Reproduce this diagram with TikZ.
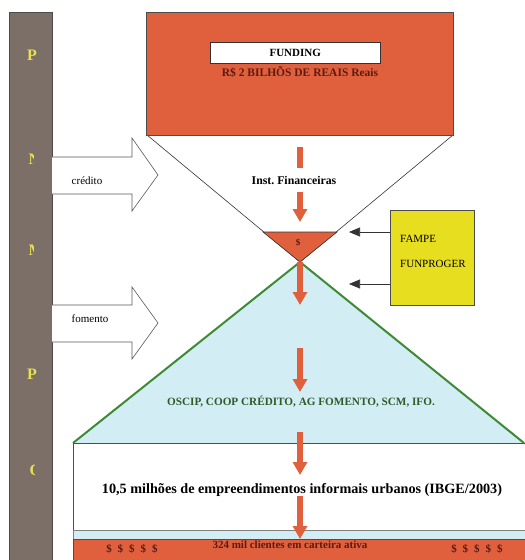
\documentclass[tikz,border=0pt]{standalone}
\usepackage{fontspec}
\setmainfont{Liberation Serif}
\usetikzlibrary{arrows.meta}
\definecolor{barc}{HTML}{7B6F67}
\definecolor{redc}{HTML}{E0603E}
\definecolor{yelc}{HTML}{E6DE1E}
\definecolor{cyanc}{HTML}{D2EEF4}
\definecolor{greenc}{HTML}{3F8A35}
\definecolor{maroonc}{HTML}{5B1A12}
\definecolor{ogreen}{HTML}{2F5A2A}
\definecolor{lettc}{HTML}{E8E050}
\begin{document}
\begin{tikzpicture}[x=1pt,y=-1pt,
  redarrow/.style={draw=redc, line width=6pt, -{Triangle[width=14pt,length=13pt]}},
  blkarrow/.style={draw=black!80, line width=0.6pt, -{Triangle[width=9pt,length=11pt]}},
  blockarrow/.style={draw=black!65, line width=0.6pt, fill=white},
  barletter/.style={text=lettc, inner sep=0pt, font=\fontsize{16}{17}\selectfont\bfseries},
  boxnode/.style={anchor=north west, inner sep=0pt},
  lbl/.style={inner sep=0pt}]
\useasboundingbox (0,0) rectangle (525,560);
% left bar
\node[boxnode, draw=black!70, fill=barc, minimum width=43, minimum height=552] (bar) at (9,12) {};
\node[barletter] (l1) at (32,55) {P};
\begin{scope}
  \clip (20,140) rectangle (33.5,180);
  \node[barletter, anchor=west] (l2) at (28.5,159) {N};
\end{scope}
\begin{scope}
  \clip (20,230) rectangle (33.5,270);
  \node[barletter, anchor=west] (l3) at (28.5,250) {M};
\end{scope}
\node[barletter] (l4) at (32,374) {P};
\begin{scope}
  \clip (20,450) rectangle (34,490);
  \node[barletter, anchor=west] (l5) at (29.5,470) {O};
\end{scope}
% funnel lines
\coordinate (apex) at (300,262);
\draw[line width=0.6pt, black!80] (147,135) -- (apex) -- (453,135);
% top red box
\node[boxnode, draw=black!70, fill=redc, minimum width=307, minimum height=123] (fundbox) at (146,12) {};
\node[boxnode, draw=black!80, fill=white, minimum width=170, minimum height=21, font=\fontsize{11}{13}\selectfont\bfseries] (funding) at (210,42) {FUNDING};
\node[lbl, text=maroonc, font=\fontsize{11.5}{13}\selectfont\bfseries] (reais) at (300,72) {R\$ 2 BILHÕS DE REAIS Reais};
% small red triangle
\draw[fill=redc, draw=black!80, line width=0.6pt] (263,232) -- (337,232) -- (apex) -- cycle;
\node[lbl, text=maroonc, font=\fontsize{9}{10}\selectfont\bfseries] (dollar) at (298,243) {\$};
% green triangle
\fill[cyanc] (apex) -- (73,443) -- (525,443) -- cycle;
% lower box and bands
\draw[black!70, fill=white, line width=0.6pt] (73,443) rectangle (528,530);
\draw[black!50, fill=cyanc, line width=0.4pt] (73,530) rectangle (528,539);
\draw[black!70, fill=redc, line width=0.6pt] (73,539) rectangle (528,563);
\draw[greenc, line width=2pt, line join=round] (73,443) -- (apex) -- (524,443);
% red arrows
\coordinate (a1s) at (300,147); \coordinate (a1e) at (300,222);
\draw[redarrow] (a1s) -- (a1e);
\node[lbl, fill=white, minimum height=24, minimum width=92, font=\fontsize{11.8}{13}\selectfont\bfseries] (inst) at (294,180) {Inst.\ Financeiras};
\coordinate (a2e) at (300,305);
\draw[redarrow] (apex) -- (a2e);
\coordinate (a3s) at (300,348); \coordinate (a3e) at (300,392);
\draw[redarrow] (a3s) -- (a3e);
\node[lbl, text=ogreen, font=\fontsize{11.2}{12}\selectfont\bfseries] (oscip) at (301,402) {OSCIP, COOP CRÉDITO, AG FOMENTO, SCM, IFO.};
\coordinate (a4s) at (300,432); \coordinate (a4e) at (300,475);
\draw[redarrow] (a4s) -- (a4e);
\node[lbl, font=\fontsize{14.2}{16}\selectfont\bfseries] (emp) at (302,490) {10,5 milhões de empreendimentos informais urbanos (IBGE/2003)};
\coordinate (a5s) at (300,496); \coordinate (a5e) at (300,539);
\draw[redarrow] (a5s) -- (a5e);
\node[lbl, text=maroonc, font=\fontsize{11}{12}\selectfont\bfseries] (cli) at (290,545) {324 mil clientes em carteira ativa};
\node[lbl, text=maroonc, font=\fontsize{11}{12}\selectfont\bfseries] (dl) at (132,549) {\$\hspace{6pt}\$\hspace{6pt}\$\hspace{6pt}\$\hspace{6pt}\$};
\node[lbl, text=maroonc, font=\fontsize{11}{12}\selectfont\bfseries] (dr) at (477,549) {\$\hspace{6pt}\$\hspace{6pt}\$\hspace{6pt}\$\hspace{6pt}\$};
% block arrows
\draw[blockarrow] (52,157) -- (132,157) -- (132,138) -- (158,175) -- (132,211) -- (132,194) -- (52,194);
\node[lbl, font=\fontsize{11}{13}\selectfont] (cred) at (87,181) {crédito};
\draw[blockarrow] (52,305) -- (132,305) -- (132,287) -- (158,323) -- (132,359) -- (132,342) -- (52,342);
\node[lbl, font=\fontsize{11}{13}\selectfont] (fom) at (90,319) {fomento};
% yellow box
\node[boxnode, draw=black!70, fill=yelc, minimum width=84, minimum height=95] (fundo) at (390,210) {};
\node[lbl, anchor=west, font=\fontsize{11}{12}\selectfont] (fampe) at (400,239) {FAMPE};
\node[lbl, anchor=west, font=\fontsize{11}{12}\selectfont] (funp) at (400,264) {FUNPROGER};
\coordinate (t1) at (349,232); \coordinate (t2) at (349,284);
\draw[blkarrow] (fundo.west |- t1) -- (t1);
\draw[blkarrow] (fundo.west |- t2) -- (t2);
\end{tikzpicture}
\end{document}
